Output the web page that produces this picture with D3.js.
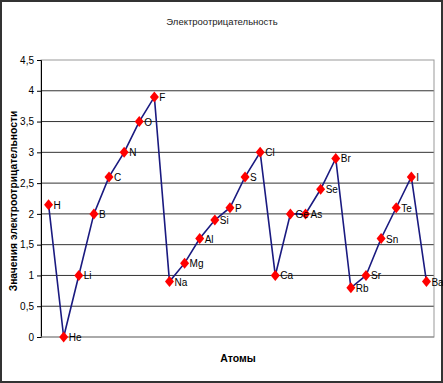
<!DOCTYPE html>
<html><head><meta charset="utf-8">
<script src="https://cdn.jsdelivr.net/npm/d3@7"></script>
<style>body{margin:0;background:#fff}svg{display:block}</style>
</head><body>
<script>
const atoms = ["H","He","Li","B","C","N","O","F","Na","Mg","Al","Si","P","S","Cl","Ca","Ge","As","Se","Br","Rb","Sr","Sn","Te","I","Ba"];
const values = [2.15,0,1,2,2.6,3,3.5,3.9,0.9,1.2,1.6,1.9,2.1,2.6,3,1,2,2,2.4,2.9,0.8,1,1.6,2.1,2.6,0.9];
const yTicks = [0,0.5,1,1.5,2,2.5,3,3.5,4,4.5];
const title = "Электроотрицательность";
const xTitle = "Атомы";
const yTitle = "Значения электроотрицательности";

const W = 443, H = 383;
const m = {l:41, r:9, t:60, b:46};
const svg = d3.select("body").append("svg").attr("width",W).attr("height",H);
svg.append("rect").attr("x",1).attr("y",1).attr("width",W-2).attr("height",H-2)
  .attr("fill","#fff").attr("stroke","#333").attr("stroke-width",2);

const x = d3.scaleBand().domain(atoms).range([m.l, W-m.r]);
const y = d3.scaleLinear().domain([0,4.5]).range([H-m.b, m.t]);

// gridlines
svg.append("g").selectAll("line").data(yTicks.filter(t=>t>0 && t<4.5)).join("line")
  .attr("x1",m.l).attr("x2",W-m.r).attr("y1",d=>y(d)).attr("y2",d=>y(d))
  .attr("stroke","#333").attr("stroke-width",1);
// plot border
svg.append("rect").attr("x",m.l).attr("y",m.t).attr("width",W-m.r-m.l).attr("height",H-m.b-m.t)
  .attr("fill","none").attr("stroke","#999").attr("stroke-width",1);

// y axis
const yAx = svg.append("g").attr("transform",`translate(${m.l},0)`)
  .call(d3.axisLeft(y).tickValues(yTicks).tickSize(4).tickPadding(3)
    .tickFormat(d=>String(d).replace(".",",")));
yAx.select(".domain").attr("stroke","#000");
yAx.selectAll("line").attr("stroke","#000");
yAx.selectAll("text").attr("font-family","Liberation Sans, Arial, sans-serif").attr("font-size",10).attr("fill","#000");

// x axis line
svg.append("line").attr("x1",m.l).attr("x2",W-m.r).attr("y1",y(0)).attr("y2",y(0)).attr("stroke","#888");

// line
const cx = d => x(d) + x.bandwidth()/2;
svg.append("path").datum(atoms.map((a,i)=>[a,values[i]]))
  .attr("fill","none").attr("stroke","#1a1a80").attr("stroke-width",1.6)
  .attr("d", d3.line().x(d=>cx(d[0])).y(d=>y(d[1])));

// markers
svg.append("g").selectAll("path").data(atoms).join("path")
  .attr("d","M0,-5.5L4.5,0L0,5.5L-4.5,0Z")
  .attr("transform",(d,i)=>`translate(${cx(d)},${y(values[i])})`)
  .attr("fill","#ff0000");

// data labels
svg.append("g").selectAll("text").data(atoms).join("text")
  .attr("x",d=>cx(d)+5).attr("y",(d,i)=>y(values[i])+4)
  .attr("font-family","Liberation Sans Narrow, Arial Narrow, Liberation Sans, sans-serif")
  .attr("font-size",10).attr("fill","#000").text(d=>d);

// titles
svg.append("text").attr("x",222).attr("y",25).attr("text-anchor","middle")
  .attr("font-family","Liberation Sans Narrow, Liberation Sans, sans-serif").attr("font-size",9.5).attr("fill","#222").text(title);
svg.append("text").attr("x",238).attr("y",362).attr("text-anchor","middle")
  .attr("font-family","Liberation Sans Narrow, Liberation Sans, sans-serif").attr("font-weight","bold").attr("font-size",10.5).attr("fill","#000").text(xTitle);
svg.append("text").attr("transform",`translate(17,201) rotate(-90)`).attr("text-anchor","middle")
  .attr("font-family","Liberation Sans, Arial, sans-serif").attr("font-weight","bold").attr("font-size",10.3).attr("fill","#000").text(yTitle);
</script>
</body></html>
